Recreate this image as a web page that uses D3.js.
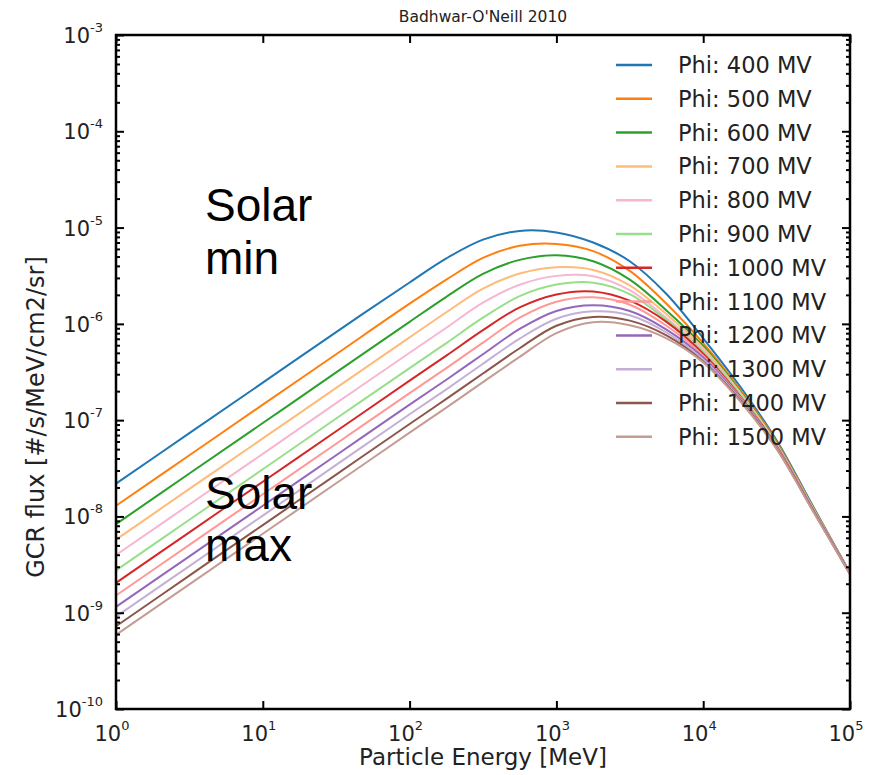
<!DOCTYPE html>
<html><head><meta charset="utf-8">
<script src="https://cdn.jsdelivr.net/npm/d3@7"></script>
<style>body{margin:0;background:#fff}</style>
</head><body><svg id="c" width="869" height="775"></svg>
<script>
// ---- data ----
const energies = [1, 3.16, 10, 31.6, 100, 178, 316, 562, 1000, 1780, 3160, 5620, 10000, 17800, 31600, 56200, 100000];
const seriesNames = ["Phi: 400 MV","Phi: 500 MV","Phi: 600 MV","Phi: 700 MV","Phi: 800 MV","Phi: 900 MV","Phi: 1000 MV","Phi: 1100 MV","Phi: 1200 MV","Phi: 1300 MV","Phi: 1400 MV","Phi: 1500 MV"];
const phi400  = [2.19e-8, 7.33e-8, 2.45e-7, 8.22e-7, 2.69e-6, 4.79e-6, 7.50e-6, 9.23e-6, 8.91e-6, 7.00e-6, 4.47e-6, 2.04e-6, 7.08e-7, 2.24e-7, 6.17e-8, 1.26e-8, 2.60e-9];
const phi500  = [1.29e-8, 4.32e-8, 1.45e-7, 4.84e-7, 1.62e-6, 2.88e-6, 4.84e-6, 6.46e-6, 6.76e-6, 5.69e-6, 3.55e-6, 1.62e-6, 6.31e-7, 2.09e-7, 5.96e-8, 1.23e-8, 2.57e-9];
const phi600  = [8.32e-9, 2.79e-8, 9.33e-8, 3.13e-7, 1.05e-6, 1.91e-6, 3.31e-6, 4.62e-6, 5.16e-6, 4.47e-6, 2.88e-6, 1.38e-6, 5.89e-7, 2.00e-7, 5.82e-8, 1.22e-8, 2.57e-9];
const phi700  = [5.75e-9, 1.93e-8, 6.46e-8, 2.16e-7, 7.24e-7, 1.32e-6, 2.32e-6, 3.33e-6, 3.87e-6, 3.63e-6, 2.51e-6, 1.26e-6, 5.62e-7, 1.95e-7, 5.69e-8, 1.20e-8, 2.57e-9];
const phi800  = [3.98e-9, 1.33e-8, 4.47e-8, 1.50e-7, 5.01e-7, 9.12e-7, 1.66e-6, 2.55e-6, 3.15e-6, 3.13e-6, 2.24e-6, 1.15e-6, 5.37e-7, 1.91e-7, 5.56e-8, 1.19e-8, 2.57e-9];
const phi900  = [2.75e-9, 9.23e-9, 3.09e-8, 1.04e-7, 3.47e-7, 6.31e-7, 1.16e-6, 1.94e-6, 2.56e-6, 2.68e-6, 2.04e-6, 1.10e-6, 5.13e-7, 1.86e-7, 5.43e-8, 1.17e-8, 2.57e-9];
const phi1000 = [2.04e-9, 6.84e-9, 2.29e-8, 7.67e-8, 2.57e-7, 4.68e-7, 8.61e-7, 1.48e-6, 2.02e-6, 2.17e-6, 1.74e-6, 1.05e-6, 4.90e-7, 1.78e-7, 5.37e-8, 1.16e-8, 2.57e-9];
const phi1100 = [1.51e-9, 5.07e-9, 1.70e-8, 5.69e-8, 1.91e-7, 3.47e-7, 6.38e-7, 1.16e-6, 1.70e-6, 1.89e-6, 1.58e-6, 9.55e-7, 4.68e-7, 1.74e-7, 5.25e-8, 1.15e-8, 2.54e-9];
const phi1200 = [1.15e-9, 3.85e-9, 1.29e-8, 4.32e-8, 1.45e-7, 2.63e-7, 4.84e-7, 8.85e-7, 1.36e-6, 1.56e-6, 1.36e-6, 8.71e-7, 4.47e-7, 1.70e-7, 5.19e-8, 1.15e-8, 2.54e-9];
const phi1300 = [9.12e-10, 3.05e-9, 1.02e-8, 3.43e-8, 1.15e-7, 2.09e-7, 3.85e-7, 7.03e-7, 1.13e-6, 1.35e-6, 1.23e-6, 8.13e-7, 4.27e-7, 1.66e-7, 5.13e-8, 1.14e-8, 2.54e-9];
const phi1400 = [7.24e-10, 2.43e-9, 8.13e-9, 2.72e-8, 9.12e-8, 1.66e-7, 3.05e-7, 5.58e-7, 9.55e-7, 1.18e-6, 1.08e-6, 7.59e-7, 4.07e-7, 1.62e-7, 5.07e-8, 1.14e-8, 2.51e-9];
const phi1500 = [5.89e-10, 1.97e-9, 6.61e-9, 2.21e-8, 7.41e-8, 1.35e-7, 2.48e-7, 4.54e-7, 8.02e-7, 1.04e-6, 9.66e-7, 7.08e-7, 3.98e-7, 1.58e-7, 5.01e-8, 1.12e-8, 2.51e-9];
const seriesValues = [phi400, phi500, phi600, phi700, phi800, phi900, phi1000, phi1100, phi1200, phi1300, phi1400, phi1500];
const xTickValues = [1, 10, 100, 1000, 10000, 100000];
const xTickExponents = ["0","1","2","3","4","5"];
const yTickValues = [1e-10, 1e-9, 1e-8, 1e-7, 1e-6, 1e-5, 1e-4, 1e-3];
const yTickExponents = ["-10","-9","-8","-7","-6","-5","-4","-3"];
const titleText = "Badhwar-O'Neill 2010";
const xLabelText = "Particle Energy [MeV]";
const yLabelText = "GCR flux [#/s/MeV/cm2/sr]";
const colors = ["#1f77b4","#ff7f0e","#2ca02c","#ffbb78","#f7b6d2","#98df8a","#d62728","#ff9896","#9467bd","#c5b0d5","#8c564b","#c49c94"];

// ---- layout ----
const L = 116, R = 850, T = 35, B = 709;
const FONT = "DejaVu Sans, Bitstream Vera Sans, sans-serif";
const svg = d3.select("#c");
const x = d3.scaleLog().domain([1, 1e5]).range([L, R]);
const y = d3.scaleLog().domain([1e-10, 1e-3]).range([B, T]);

// curves
const line = d3.line().x(d => x(d[0])).y(d => y(d[1])).curve(d3.curveCatmullRom.alpha(0.5));
const gLines = svg.append("g");
seriesValues.forEach((vals, i) => {
  gLines.append("path")
    .attr("d", line(energies.map((e, k) => [e, vals[k]])))
    .attr("fill", "none").attr("stroke", colors[i]).attr("stroke-width", 2);
});

// minor ticks for y
const yMinor = [];
for (let p = -10; p < -3; p++) for (let m = 2; m <= 9; m++) yMinor.push(m * Math.pow(10, p));

function styleAxis(g) {
  g.select(".domain").remove();
  g.selectAll(".tick line").attr("stroke", "#000").attr("stroke-width", 2);
}
const axB = svg.append("g").attr("transform", `translate(0,${B})`)
  .call(d3.axisBottom(x).tickValues(xTickValues).tickSize(-8).tickFormat(""));
styleAxis(axB);
const axT = svg.append("g").attr("transform", `translate(0,${T})`)
  .call(d3.axisTop(x).tickValues(xTickValues).tickSize(-8).tickFormat(""));
styleAxis(axT);
const axL = svg.append("g").attr("transform", `translate(${L},0)`)
  .call(d3.axisLeft(y).tickValues(yTickValues).tickSize(-8).tickFormat(""));
styleAxis(axL);
const axR = svg.append("g").attr("transform", `translate(${R},0)`)
  .call(d3.axisRight(y).tickValues(yTickValues).tickSize(-8).tickFormat(""));
styleAxis(axR);
const axLm = svg.append("g").attr("transform", `translate(${L},0)`)
  .call(d3.axisLeft(y).tickValues(yMinor).tickSize(-4).tickFormat(""));
styleAxis(axLm);
const axRm = svg.append("g").attr("transform", `translate(${R},0)`)
  .call(d3.axisRight(y).tickValues(yMinor).tickSize(-4).tickFormat(""));
styleAxis(axRm);

// frame
svg.append("rect").attr("x", L).attr("y", T).attr("width", R - L).attr("height", B - T)
  .attr("fill", "none").attr("stroke", "#000").attr("stroke-width", 2.5);

// tick labels
const tickCol = "#222";
xTickValues.forEach((v, i) => {
  const t = svg.append("text").attr("x", x(v) - 4).attr("y", B + 32)
    .attr("text-anchor", "middle").attr("font-family", FONT).attr("fill", tickCol);
  t.append("tspan").attr("font-size", 21).text("10");
  t.append("tspan").attr("font-size", 13).attr("dy", -11).text(xTickExponents[i]);
});
yTickValues.forEach((v, i) => {
  const t = svg.append("text").attr("x", L - 13).attr("y", y(v) + 8)
    .attr("text-anchor", "end").attr("font-family", FONT).attr("fill", tickCol);
  t.append("tspan").attr("font-size", 21).text("10");
  t.append("tspan").attr("font-size", 13).attr("dy", -11).text(yTickExponents[i]);
});

// title and axis labels
svg.append("text").attr("x", 483).attr("y", 22).attr("text-anchor", "middle")
  .attr("font-family", FONT).attr("font-size", 15.5).attr("fill", tickCol).text(titleText);
svg.append("text").attr("x", 483).attr("y", 765).attr("text-anchor", "middle")
  .attr("font-family", FONT).attr("font-size", 23).attr("fill", tickCol).text(xLabelText);
svg.append("text").attr("transform", "translate(44,417) rotate(-90)").attr("text-anchor", "middle")
  .attr("font-family", FONT).attr("font-size", 24).attr("fill", tickCol).text(yLabelText);

// legend
const lg = svg.append("g");
seriesNames.forEach((name, i) => {
  const yy = 65 + i * 33.8;
  lg.append("line").attr("x1", 616).attr("x2", 652).attr("y1", yy).attr("y2", yy)
    .attr("stroke", colors[i]).attr("stroke-width", 2.5);
  lg.append("text").attr("x", 678).attr("y", yy + 8).attr("font-family", FONT)
    .attr("font-size", 22.5).attr("fill", tickCol).text(name);
});

// annotations
const ann = [["Solar", 221], ["min", 274], ["Solar", 509], ["max", 561]];
ann.forEach(a => svg.append("text").attr("x", 205).attr("y", a[1])
  .attr("font-family", "Liberation Sans, Arial, sans-serif").attr("font-size", 46).attr("fill", "#000").text(a[0]));
</script></body></html>
